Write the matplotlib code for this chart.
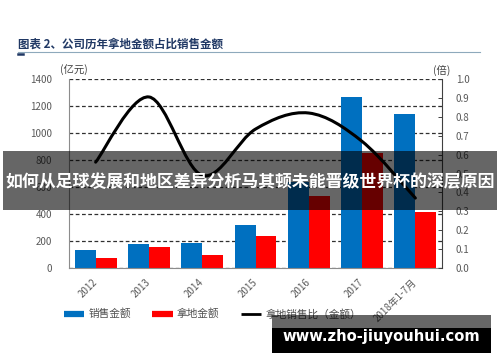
import numpy as np
import matplotlib
matplotlib.use("Agg")
import matplotlib.pyplot as plt
from matplotlib.path import Path
from matplotlib.patches import PathPatch, Rectangle
from matplotlib.lines import Line2D

plt.rcParams['font.family'] = ['Noto Sans CJK SC', 'DejaVu Sans']

# ---- data ----
categories = ['2012', '2013', '2014', '2015', '2016', '2017', '2018年1-7月']
sales = [131, 176, 185, 321, 640, 1266, 1140]          # 销售金额 (亿元)
land = [76, 156, 94, 237, 536, 851, 418]               # 拿地金额 (亿元)
ratio = [0.56, 0.905, 0.49, 0.735, 0.82, 0.67, 0.37]   # 拿地销售比(金额)
left_ticks = [0, 200, 400, 600, 800, 1000, 1200, 1400]
right_ticks = [0.0, 0.1, 0.2, 0.3, 0.4, 0.5, 0.6, 0.7, 0.8, 0.9, 1.0]

W, H = 500, 362
def fx(x): return x / W
def fy(y): return 1 - y / H

fig = plt.figure(figsize=(W / 100, H / 100), dpi=100)
ax = fig.add_axes([fx(69), fy(268), (442 - 69) / W, (268 - 79) / H])

x = np.arange(len(categories))
bw = 0.394
ax.bar(x - bw / 2, sales, bw, color='#0070C0', zorder=2)
ax.bar(x + bw / 2, land, bw, color='#FF0000', zorder=2)
ax.set_xlim(-0.5, len(categories) - 0.5)
ax.set_ylim(0, 1400)
ax.set_yticks(left_ticks)
ax.set_yticklabels([str(v) for v in left_ticks])
ax.yaxis.grid(True, linestyle=(0, (3, 2)), color='#303030', lw=0.9)
ax.set_axisbelow(True)
ax.tick_params(axis='y', length=0, pad=12, labelsize=7, labelcolor='#595959')
ax.set_xticks(x)
ax.set_xticklabels(categories, rotation=45, ha='right', va='center',
                   rotation_mode='anchor')
ax.tick_params(axis='x', length=0, pad=9, labelsize=7, labelcolor='#595959')
for s in ['top', 'right']:
    ax.spines[s].set_visible(False)
for s in ['left', 'bottom']:
    ax.spines[s].set_color('#8c8c8c')
    ax.spines[s].set_linewidth(0.8)

ax2 = ax.twinx()
ax2.set_ylim(0, 1)
ax2.set_yticks(right_ticks)
ax2.set_yticklabels(['%.1f' % v for v in right_ticks])
ax2.tick_params(axis='y', direction='in', length=3, width=0.7, color='#404040',
                pad=10, labelsize=7, labelcolor='#595959')
for s in ['top', 'left', 'bottom']:
    ax2.spines[s].set_visible(False)
ax2.spines['right'].set_color('#404040')
ax2.spines['right'].set_linewidth(0.8)

# smooth line (Catmull-Rom converted to cubic Bezier path)
pts = np.column_stack([x, ratio]).astype(float)
verts = [pts[0]]
codes = [Path.MOVETO]
n = len(pts)
for i in range(n - 1):
    p0 = pts[i - 1] if i > 0 else pts[i]
    p1 = pts[i]
    p2 = pts[i + 1]
    p3 = pts[i + 2] if i + 2 < n else pts[i + 1]
    c1 = p1 + (p2 - p0) / 6
    c2 = p2 - (p3 - p1) / 6
    verts += [c1, c2, p2]
    codes += [Path.CURVE4] * 3
ax2.add_patch(PathPatch(Path(verts, codes), facecolor='none', edgecolor='black',
                        lw=2.2, capstyle='round', zorder=3))

# units
fig.text(fx(74), fy(70), '(亿元)', fontsize=7.5, color='#404040', ha='center', va='center')
fig.text(fx(442), fy(70), '(倍)', fontsize=7.5, color='#404040', ha='center', va='center')

# title
fig.text(fx(18), fy(44), '图表 2、公司历年拿地金额占比销售金额', fontsize=8.3,
         weight='bold', color='#203864', ha='left', va='center')
fig.add_artist(Line2D([fx(18), fx(480)], [fy(52), fy(52)], color='#8EA9BC', lw=0.8))
fig.add_artist(Line2D([fx(18), fx(23)], [fy(53.5), fy(53.5)], color='#203864', lw=1.8))

# legend
handles = [Line2D([], [], color='#0070C0', lw=4.5, solid_capstyle='butt'),
           Line2D([], [], color='#FF0000', lw=4.5, solid_capstyle='butt'),
           Line2D([], [], color='black', lw=2.0, solid_capstyle='butt')]
labels = ['销售金额', '拿地金额', '拿地销售比（金额）']
fig.legend(handles, labels, loc='center left', bbox_to_anchor=(fx(64), fy(314)),
           bbox_transform=fig.transFigure, ncol=3, frameon=False, fontsize=7.7,
           labelcolor='#505050', handlelength=1.9, handletextpad=0.4,
           columnspacing=2.0, borderpad=0, borderaxespad=0)

# banner overlay
fig.add_artist(Rectangle((fx(3), fy(210)), 494 / W, 59 / H, transform=fig.transFigure,
                         facecolor='black', alpha=0.6, edgecolor='none', zorder=10))
fig.text(fx(250), fy(182), '如何从足球发展和地区差异分析马其顿未能晋级世界杯的深层原因',
         fontsize=12.2, weight='bold', color='white', ha='center', va='center', zorder=11)

# watermark
fig.add_artist(Rectangle((fx(272), fy(353)), 219 / W, 38 / H, transform=fig.transFigure,
                         facecolor='black', alpha=0.6, edgecolor='none', zorder=10))
fig.add_artist(Rectangle((fx(272), fy(353)), 219 / W, 25 / H, transform=fig.transFigure,
                         facecolor='black', edgecolor='none', zorder=10))
fig.text(fx(381), fy(337), 'www.zho-jiuyouhui.com', fontsize=10.6, weight='bold',
         color='white', family='DejaVu Sans', ha='center', va='center', zorder=11)

fig.savefig('out.png', dpi=100, facecolor='white')
